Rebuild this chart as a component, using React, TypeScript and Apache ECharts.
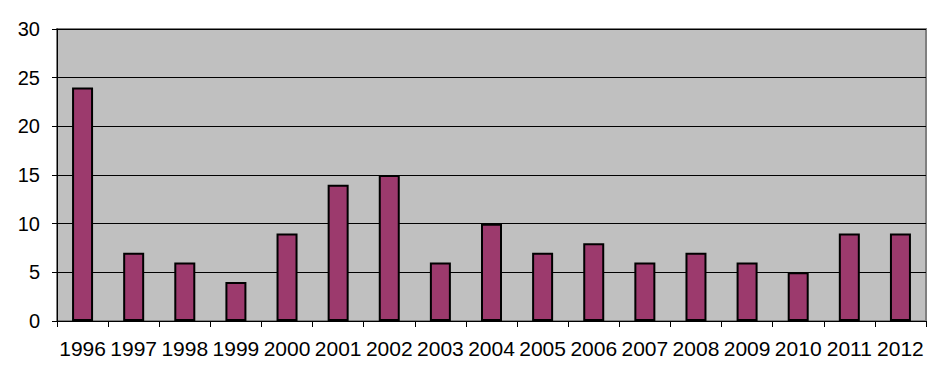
import React, { useEffect, useRef } from "react";
import * as echarts from "echarts";

const categories = ["1996", "1997", "1998", "1999", "2000", "2001", "2002", "2003", "2004", "2005", "2006", "2007", "2008", "2009", "2010", "2011", "2012"];
const values = [24, 7, 6, 4, 9, 14, 15, 6, 10, 7, 8, 6, 7, 6, 5, 9, 9];

export default function App() {
  const ref = useRef<HTMLDivElement>(null);
  useEffect(() => {
    document.body.style.margin = "0";
    const chart = echarts.init(ref.current!, null, { renderer: "svg" });
    chart.setOption({
      animation: false,
      backgroundColor: "#ffffff",
      grid: {
        left: 57,
        right: 20,
        top: 29,
        bottom: 71,
        show: true,
        backgroundColor: "#c0c0c0",
        borderColor: "#808080",
        borderWidth: 2,
      },
      xAxis: {
        type: "category",
        data: categories,
        boundaryGap: true,
        axisLine: { show: true, lineStyle: { color: "#000", width: 1 } },
        axisTick: { show: true, length: 6, interval: 0, lineStyle: { color: "#000" } },
        axisLabel: {
          interval: 0,
          color: "#000",
          fontSize: 21,
          fontFamily: "Liberation Sans, Arial, sans-serif",
          margin: 17,
        },
        splitLine: { show: false },
      },
      yAxis: {
        type: "value",
        min: 0,
        max: 30,
        interval: 5,
        axisLine: { show: true, lineStyle: { color: "#000", width: 1 } },
        axisTick: { show: true, length: 5, lineStyle: { color: "#000" } },
        axisLabel: {
          color: "#000",
          fontSize: 20,
          fontFamily: "Liberation Sans, Arial, sans-serif",
          margin: 17,
        },
        splitLine: { show: true, lineStyle: { color: "#000", width: 1 } },
      },
      series: [
        {
          type: "bar",
          data: values,
          barWidth: 21,
          itemStyle: { color: "#9c3a6d", borderColor: "#000", borderWidth: 2 },
        },
      ],
    });
    return () => chart.dispose();
  }, []);
  return <div ref={ref} style={{ width: 946, height: 392 }} />;
}
